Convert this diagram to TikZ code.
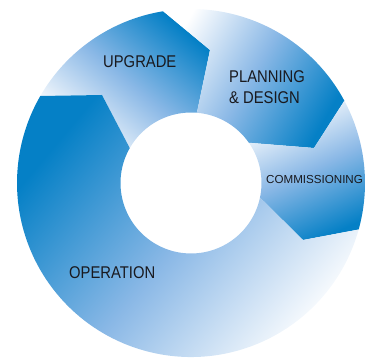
\documentclass[tikz,border=0pt]{standalone}
\usepackage{fontspec}
\newfontfamily\labfont[FakeStretch=0.87]{Liberation Sans}
\newfontfamily\smallfont{Liberation Sans}
\usetikzlibrary{calc}
\definecolor{dk}{RGB}{5,128,198}
\definecolor{md}{RGB}{138,184,230}
\definecolor{tx}{RGB}{25,25,30}
\begin{document}
\begin{tikzpicture}[x=1pt,y=1pt,
  seg/.style={top color=dk, bottom color=white, middle color=md},
  lab/.style={inner sep=0pt, text=tx, anchor=base west, font=\labfont\fontsize{17}{17}\selectfont}]
\useasboundingbox (0,0) rectangle (371,358);
\coordinate (C) at (191,175);
\path (C) ++(150:174) coordinate (Ao) (C) ++(150.3:70.5) coordinate (Ai);
\coordinate (At) at (102,263);
\path (C) ++(99.2:174) coordinate (Bo) (C) ++(85.2:70.5) coordinate (Bi);
\coordinate (Bt) at (210,308);
\path (C) ++(28.2:174) coordinate (Co) (C) ++(34.8:70.5) coordinate (Ci);
\coordinate (Ct) at (314,210);
\path (C) ++(-15.5:174) coordinate (Do) (C) ++(-11.9:70.5) coordinate (Di);
\coordinate (Dt) at (303,118);
% UPGRADE
\shade[seg, shading angle=-40] (Ao) arc[start angle=150, end angle=99.2, radius=174] -- (Bt) -- (Bi) arc[start angle=85.2, end angle=150.3, radius=70.5] -- (At) -- cycle;
% PLANNING & DESIGN
\shade[seg, shading angle=-120] (Bo) arc[start angle=99.2, end angle=28.2, radius=174] -- (Ct) -- (Ci) arc[start angle=34.8, end angle=85.2, radius=70.5] -- (Bt) -- cycle;
% COMMISSIONING
\shade[seg, shading angle=-155] (Co) arc[start angle=28.2, end angle=-15.5, radius=174] -- (Dt) -- (Di) arc[start angle=-11.9, end angle=34.8, radius=70.5] -- (Ct) -- cycle;
% OPERATION
\shade[seg, shading angle=50] (Do) arc[start angle=-15.5, end angle=-210, radius=174] -- (At) -- (Ai) arc[start angle=-209.7, end angle=-11.9, radius=70.5] -- (Dt) -- cycle;
\node[lab] (up) at (103,290) {UPGRADE};
\node[lab] (pl1) at (229,275.7) {PLANNING};
\node[lab] (pl2) at (229,254.7) {\&~DESIGN};
\node[lab, font=\smallfont\fontsize{11.6}{12}\selectfont] (com) at (266,174.7) {COMMISSIONING};
\node[lab] (op) at (69,79) {OPERATION};
\end{tikzpicture}
\end{document}
